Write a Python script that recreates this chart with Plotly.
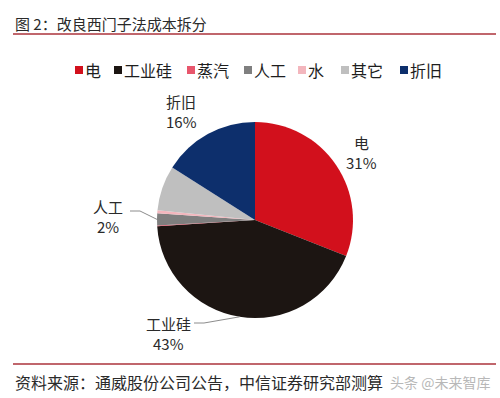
import math
import plotly.graph_objects as go

# ---- data ----
categories = ["电", "工业硅", "蒸汽", "人工", "水", "其它", "折旧"]
values = [31, 43, 0.1, 2, 0.5, 7.4, 16]
colors = ["#d2101c", "#1c1512", "#e8566c", "#7f7f7f", "#f3b6bd", "#bfbfbf", "#0d2f6c"]
shown_labels = {"电": "31%", "工业硅": "43%", "人工": "2%", "折旧": "16%"}

W, H = 500, 398
FONT = "Noto Sans CJK SC"
cx, cy, r = 255, 220, 98

fig = go.Figure()
fig.add_trace(go.Pie(
    labels=categories, values=values,
    marker=dict(colors=colors, line=dict(width=0)),
    sort=False, direction="clockwise", rotation=0,
    textinfo="none", hoverinfo="label+percent", showlegend=False,
    domain=dict(x=[(cx - r) / W, (cx + r) / W], y=[(H - cy - r) / H, (H - cy + r) / H]),
))

shapes = []
annotations = []

# title + rules
annotations.append(dict(x=13, y=23, xref="x", yref="y", text="图 2：改良西门子法成本拆分",
                        showarrow=False, xanchor="left", yanchor="middle",
                        font=dict(family=FONT, size=15, color="#2a2a2a")))
shapes.append(dict(type="line", x0=13, x1=496, y0=34, y1=34, xref="x", yref="y",
                   line=dict(color="#c0666c", width=2)))
shapes.append(dict(type="line", x0=13, x1=496, y0=364, y1=364, xref="x", yref="y",
                   line=dict(color="#c0666c", width=2)))
annotations.append(dict(x=13, y=382, xref="x", yref="y", text="资料来源：通威股份公司公告，中信证券研究部测算",
                        showarrow=False, xanchor="left", yanchor="middle",
                        font=dict(family=FONT, size=16, color="#2a2a2a")))
annotations.append(dict(x=492, y=382, xref="x", yref="y", text="头条 @未来智库",
                        showarrow=False, xanchor="right", yanchor="middle",
                        font=dict(family=FONT, size=14, color="#b8b8b8")))

# legend
legend_x = [75, 114, 187, 244, 298, 341, 400]
for cat, col, lx in zip(categories, colors, legend_x):
    shapes.append(dict(type="rect", x0=lx, x1=lx + 8, y0=66, y1=74, xref="x", yref="y",
                       fillcolor=col, line=dict(width=0)))
    annotations.append(dict(x=lx + 8, y=70, xref="x", yref="y", text=cat, showarrow=False,
                            xanchor="left", yanchor="middle",
                            font=dict(family=FONT, size=16, color="#1e1e1e")))

# slice labels
total = sum(values)
cum = 0
mids = {}
for cat, v in zip(categories, values):
    mids[cat] = (cum + v / 2) / total * 2 * math.pi
    cum += v

label_pos = {"电": (361, 142), "折旧": (181, 101), "人工": (108, 206), "工业硅": (168, 323)}
leaders = {"人工": (130, 211), "工业硅": (194, 323)}
for cat, pct in shown_labels.items():
    lx, ly = label_pos[cat]
    for txt, yy in ((cat, ly), (pct, ly + 20)):
        annotations.append(dict(x=lx, y=yy, xref="x", yref="y", text=txt,
                                showarrow=False, xanchor="center", yanchor="middle",
                                font=dict(family=FONT, size=15, color="#2a2a2a")))
    if cat in leaders:
        a = mids[cat]
        tx, ty = cx + r * math.sin(a), cy - r * math.cos(a)
        sx, sy = leaders[cat]
        shapes.append(dict(type="path", xref="x", yref="y",
                           path=f"M {sx},{sy} L {sx + 10},{sy} L {tx:.1f},{ty:.1f}",
                           line=dict(color="#8c8c8c", width=1)))

fig.update_layout(
    width=W, height=H, margin=dict(l=0, r=0, t=0, b=0),
    paper_bgcolor="white", plot_bgcolor="rgba(0,0,0,0)",
    xaxis=dict(range=[0, W], visible=False, fixedrange=True),
    yaxis=dict(range=[H, 0], visible=False, fixedrange=True),
    shapes=shapes, annotations=annotations,
)
fig.write_html("out.html")
